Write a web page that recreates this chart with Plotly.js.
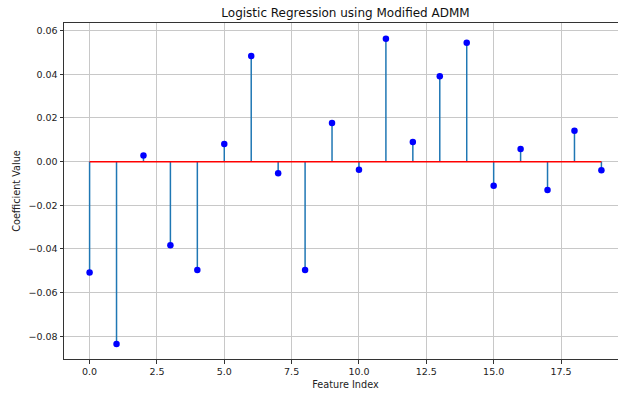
<!DOCTYPE html>
<html>
<head>
<meta charset="utf-8">
<script src="https://cdn.plot.ly/plotly-3.0.1.min.js"></script>
<style>
html,body{margin:0;padding:0;overflow:hidden;background:#fff;}
#chart{width:640px;height:393px;}
</style>
</head>
<body>
<div id="chart"></div>
<script>
const featureIndex = [0,1,2,3,4,5,6,7,8,9,10,11,12,13,14,15,16,17,18,19];
const coefficients = [-0.0508,-0.0835,0.0028,-0.0383,-0.0496,0.0081,0.0484,-0.0053,-0.0496,0.0177,
                      -0.0037,0.0563,0.0090,0.0391,0.0544,-0.0111,0.0058,-0.0130,0.0141,-0.0039];
const titleText = "Logistic Regression using Modified ADMM";
const xLabel = "Feature Index";
const yLabel = "Coefficient Value";

const stemX = [], stemY = [];
featureIndex.forEach((x,i)=>{ stemX.push(x,x,null); stemY.push(0,coefficients[i],null); });

const font = "DejaVu Sans, sans-serif";
const traces = [
  {x: stemX, y: stemY, mode:'lines', line:{color:'#1f77b4', width:1.5}, hoverinfo:'skip', showlegend:false},
  {x: [featureIndex[0], featureIndex[featureIndex.length-1]], y:[0,0], mode:'lines', line:{color:'#ff0000', width:1.5}, showlegend:false},
  {x: featureIndex, y: coefficients, mode:'markers', marker:{color:'#0000ff', size:6.5}, showlegend:false}
];
const layout = {
  width:640, height:393,
  margin:{l:64, r:13, t:23, b:34},
  paper_bgcolor:'#fff', plot_bgcolor:'#fff',
  font:{family:font, size:9.5, color:'#222'},
  title:{text:titleText, font:{family:font, size:12, color:'#111'}, x:0.5, xref:'paper', xanchor:'center', y:1, yref:'container', yanchor:'top', pad:{t:9}},
  xaxis:{range:[-0.95,19.95], tickmode:'linear', tick0:0, dtick:2.5, tickformat:'.1f',
    showgrid:true, gridcolor:'#c8c8c8', gridwidth:1, zeroline:false,
    showline:true, linecolor:'#333', linewidth:1, mirror:true,
    ticks:'outside', ticklen:3.5, tickcolor:'#333', tickfont:{size:9.5},
    title:{text:xLabel, font:{size:9.7}, standoff:5}},
  yaxis:{range:[-0.0904,0.0635], tickmode:'linear', tick0:0, dtick:0.02, tickformat:'.2f',
    showgrid:true, gridcolor:'#c8c8c8', gridwidth:1, zeroline:false,
    showline:true, linecolor:'#333', linewidth:1, mirror:true,
    ticks:'outside', ticklen:3.5, tickcolor:'#333', tickfont:{size:9.5},
    title:{text:yLabel, font:{size:9.7}, standoff:6}}
};
Plotly.newPlot('chart', traces, layout, {displayModeBar:false, staticPlot:true});
</script>
</body>
</html>
